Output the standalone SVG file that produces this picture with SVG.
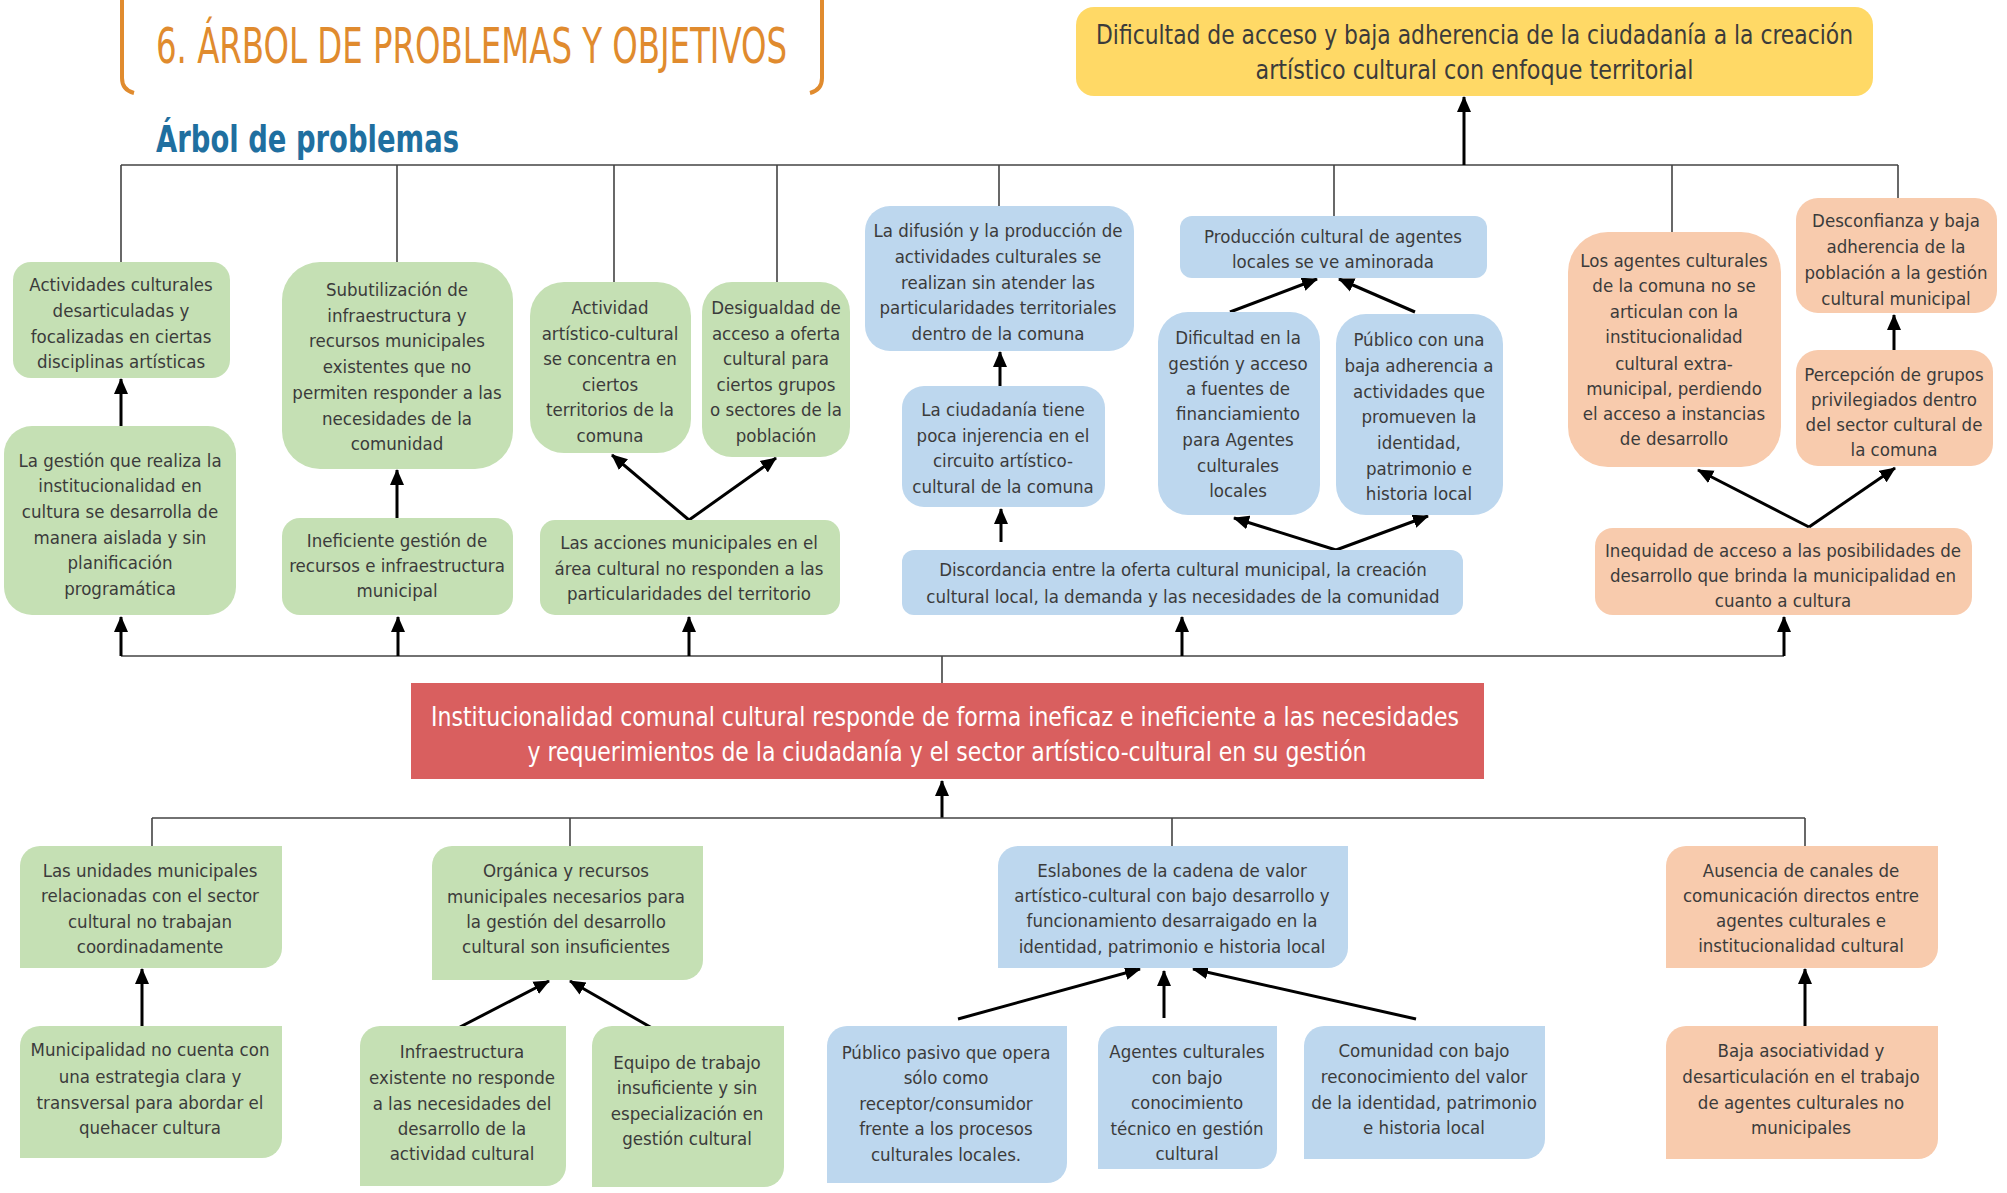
<svg xmlns="http://www.w3.org/2000/svg" width="2007" height="1193" viewBox="0 0 2007 1193">
<defs>
<marker id="ah" markerUnits="userSpaceOnUse" markerWidth="16" markerHeight="16" viewBox="0 0 16 16" refX="15" refY="8" orient="auto"><path d="M0,1 L16,8 L0,15 Z" fill="#000"/></marker>
<style>
text{font-family:"DejaVu Sans Condensed","Liberation Sans Narrow","Liberation Sans",sans-serif}
.t{font-size:18.5px;fill:#3b3b3b;text-anchor:middle}
.big{font-size:27px;text-anchor:middle}
.g{fill:#c5e0b4}.b{fill:#bdd7ee}.o{fill:#f8cbad}
.ln{stroke:#444;stroke-width:1.6;fill:none}
.ar{stroke:#000;stroke-width:3;fill:none;marker-end:url(#ah)}
</style>
</defs>
<rect width="2007" height="1193" fill="#fff"/>
<g id="title">
<path d="M122,0 V78 Q122,90 134,93" fill="none" stroke="#e08b2e" stroke-width="4"/>
<path d="M822,0 V78 Q822,90 810,93" fill="none" stroke="#e08b2e" stroke-width="4"/>
<text x="156" y="63" font-size="50" fill="#e08b2e" textLength="631" lengthAdjust="spacingAndGlyphs">6. ÁRBOL DE PROBLEMAS Y OBJETIVOS</text>
<text x="156" y="152" font-size="38" font-weight="bold" fill="#1f6fa0" textLength="303" lengthAdjust="spacingAndGlyphs">Árbol de problemas</text>
</g>
<g id="connectors">
<path class="ln" d="M121,165 H1898 M121,165 V262 M397,165 V262 M614,165 V282 M777,165 V282 M999,165 V206 M1334,165 V216 M1672,165 V232 M1898,165 V198"/>
<path class="ar" d="M1464,165 V97"/>
<path class="ar" d="M121,426 V379"/>
<path class="ar" d="M397,518 V470"/>
<path class="ar" d="M689,520 L612,455"/>
<path class="ar" d="M689,520 L776,458"/>
<path class="ar" d="M1000,386 V352"/>
<path class="ar" d="M1001,542 V509"/>
<path class="ar" d="M1230,312 L1317,279"/>
<path class="ar" d="M1415,312 L1339,279"/>
<path class="ar" d="M1336,550 L1234,518"/>
<path class="ar" d="M1336,550 L1428,516"/>
<path class="ar" d="M1894,350 V315"/>
<path class="ar" d="M1809,527 L1698,470"/>
<path class="ar" d="M1809,527 L1895,468"/>
<path class="ln" d="M121,656 H1784 M942,656 V683"/>
<path class="ar" d="M121,656 V617"/>
<path class="ar" d="M398,656 V617"/>
<path class="ar" d="M689,656 V617"/>
<path class="ar" d="M1182,656 V617"/>
<path class="ar" d="M1784,656 V617"/>
<path class="ar" d="M942,818 V781"/>
<path class="ln" d="M152,818 H1805 M152,818 V846 M570,818 V846 M1172,818 V846 M1805,818 V846" stroke-width="2"/>
<path class="ar" d="M142,1026 V969"/>
<path class="ar" d="M460,1027 L549,981"/>
<path class="ar" d="M652,1028 L570,981"/>
<path class="ar" d="M958,1019 L1140,969"/>
<path class="ar" d="M1164,1018 V971"/>
<path class="ar" d="M1416,1019 L1193,969"/>
<path class="ar" d="M1805,1026 V969"/>
</g>
<g id="n-goal"><rect x="1076" y="7" width="797" height="89" rx="18" fill="#ffd966"/>
<text class="big" fill="#3b3b3b" x="1474.5" y="44" textLength="757" lengthAdjust="spacingAndGlyphs">Dificultad de acceso y baja adherencia de la ciudadanía a la creación</text>
<text class="big" fill="#3b3b3b" x="1474.5" y="79" textLength="438" lengthAdjust="spacingAndGlyphs">artístico cultural con enfoque territorial</text></g>
<g id="n-core"><rect x="411" y="683" width="1073" height="96" fill="#d95f5f"/>
<text class="big" fill="#fff" x="945" y="726" textLength="1028" lengthAdjust="spacingAndGlyphs">Institucionalidad comunal cultural responde de forma ineficaz e ineficiente a las necesidades</text>
<text class="big" fill="#fff" x="947" y="761" textLength="839" lengthAdjust="spacingAndGlyphs">y requerimientos de la ciudadanía y el sector artístico-cultural en su gestión</text></g>

<g id="n1"><rect class="g" x="13" y="262" width="217" height="116" rx="18"/>
<text class="t" x="121" y="291">Actividades culturales</text><text class="t" x="121" y="317">desarticuladas y</text><text class="t" x="121" y="343">focalizadas en ciertas</text><text class="t" x="121" y="368">disciplinas artísticas</text></g>
<g id="n2"><rect class="g" x="4" y="426" width="232" height="189" rx="28"/>
<text class="t" x="120" y="467">La gestión que realiza la</text><text class="t" x="120" y="492">institucionalidad en</text><text class="t" x="120" y="518">cultura se desarrolla de</text><text class="t" x="120" y="544">manera aislada y sin</text><text class="t" x="120" y="569">planificación</text><text class="t" x="120" y="595">programática</text></g>
<g id="n3"><rect class="g" x="282" y="262" width="231" height="207" rx="38"/>
<text class="t" x="397" y="296">Subutilización de</text><text class="t" x="397" y="322">infraestructura y</text><text class="t" x="397" y="347">recursos municipales</text><text class="t" x="397" y="373">existentes que no</text><text class="t" x="397" y="399">permiten responder a las</text><text class="t" x="397" y="425">necesidades de la</text><text class="t" x="397" y="450">comunidad</text></g>
<g id="n4"><rect class="g" x="282" y="518" width="231" height="97" rx="18"/>
<text class="t" x="397" y="547">Ineficiente gestión de</text><text class="t" x="397" y="572">recursos e infraestructura</text><text class="t" x="397" y="597">municipal</text></g>
<g id="n5"><rect class="g" x="530" y="282" width="161" height="171" rx="34"/>
<text class="t" x="610" y="314">Actividad</text><text class="t" x="610" y="340">artístico-cultural</text><text class="t" x="610" y="365">se concentra en</text><text class="t" x="610" y="391">ciertos</text><text class="t" x="610" y="416">territorios de la</text><text class="t" x="610" y="442">comuna</text></g>
<g id="n6"><rect class="g" x="702" y="282" width="148" height="175" rx="30"/>
<text class="t" x="776" y="314">Desigualdad de</text><text class="t" x="776" y="340">acceso a oferta</text><text class="t" x="776" y="365">cultural para</text><text class="t" x="776" y="391">ciertos grupos</text><text class="t" x="776" y="416">o sectores de la</text><text class="t" x="776" y="442">población</text></g>
<g id="n7"><rect class="g" x="540" y="520" width="300" height="95" rx="15"/>
<text class="t" x="689" y="549">Las acciones municipales en el</text><text class="t" x="689" y="575">área cultural no responden a las</text><text class="t" x="689" y="600">particularidades del territorio</text></g>
<g id="n8"><rect class="b" x="865" y="206" width="269" height="145" rx="25"/>
<text class="t" x="998" y="237">La difusión y la producción de</text><text class="t" x="998" y="263">actividades culturales se</text><text class="t" x="998" y="289">realizan sin atender las</text><text class="t" x="998" y="314">particularidades territoriales</text><text class="t" x="998" y="340">dentro de la comuna</text></g>
<g id="n9"><rect class="b" x="902" y="386" width="203" height="121" rx="22"/>
<text class="t" x="1003" y="416">La ciudadanía tiene</text><text class="t" x="1003" y="442">poca injerencia en el</text><text class="t" x="1003" y="467">circuito artístico-</text><text class="t" x="1003" y="493">cultural de la comuna</text></g>
<g id="n10"><rect class="b" x="902" y="550" width="561" height="65" rx="12"/>
<text class="t" x="1183" y="576">Discordancia entre la oferta cultural municipal, la creación</text><text class="t" x="1183" y="603">cultural local, la demanda y las necesidades de la comunidad</text></g>
<g id="n11"><rect class="b" x="1180" y="216" width="307" height="62" rx="12"/>
<text class="t" x="1333" y="243">Producción cultural de agentes</text><text class="t" x="1333" y="268">locales se ve aminorada</text></g>
<g id="n12"><rect class="b" x="1158" y="312" width="162" height="203" rx="30"/>
<text class="t" x="1238" y="344">Dificultad en la</text><text class="t" x="1238" y="370">gestión y acceso</text><text class="t" x="1238" y="395">a fuentes de</text><text class="t" x="1238" y="420">financiamiento</text><text class="t" x="1238" y="446">para Agentes</text><text class="t" x="1238" y="472">culturales</text><text class="t" x="1238" y="497">locales</text></g>
<g id="n13"><rect class="b" x="1336" y="314" width="167" height="201" rx="30"/>
<text class="t" x="1419" y="346">Público con una</text><text class="t" x="1419" y="372">baja adherencia a</text><text class="t" x="1419" y="398">actividades que</text><text class="t" x="1419" y="423">promueven la</text><text class="t" x="1419" y="449">identidad,</text><text class="t" x="1419" y="475">patrimonio e</text><text class="t" x="1419" y="500">historia local</text></g>
<g id="n14"><rect class="o" x="1568" y="232" width="213" height="235" rx="40"/>
<text class="t" x="1674" y="267">Los agentes culturales</text><text class="t" x="1674" y="292">de la comuna no se</text><text class="t" x="1674" y="318">articulan con la</text><text class="t" x="1674" y="343">institucionalidad</text><text class="t" x="1674" y="370">cultural extra-</text><text class="t" x="1674" y="395">municipal, perdiendo</text><text class="t" x="1674" y="420">el acceso a instancias</text><text class="t" x="1674" y="445">de desarrollo</text></g>
<g id="n15"><rect class="o" x="1796" y="198" width="201" height="115" rx="22"/>
<text class="t" x="1896" y="227">Desconfianza y baja</text><text class="t" x="1896" y="253">adherencia de la</text><text class="t" x="1896" y="279">población a la gestión</text><text class="t" x="1896" y="305">cultural municipal</text></g>
<g id="n16"><rect class="o" x="1796" y="350" width="197" height="116" rx="22"/>
<text class="t" x="1894" y="381">Percepción de grupos</text><text class="t" x="1894" y="406">privilegiados dentro</text><text class="t" x="1894" y="431">del sector cultural de</text><text class="t" x="1894" y="456">la comuna</text></g>
<g id="n17"><rect class="o" x="1595" y="528" width="377" height="87" rx="18"/>
<text class="t" x="1783" y="557">Inequidad de acceso a las posibilidades de</text><text class="t" x="1783" y="582">desarrollo que brinda la municipalidad en</text><text class="t" x="1783" y="607">cuanto a cultura</text></g>

<g id="n18"><path class="g" d="M40,846 H282 V948 A20,20 0 0 1 262,968 H20 V866 A20,20 0 0 1 40,846 Z"/>
<text class="t" x="150" y="877">Las unidades municipales</text><text class="t" x="150" y="902">relacionadas con el sector</text><text class="t" x="150" y="928">cultural no trabajan</text><text class="t" x="150" y="953">coordinadamente</text></g>
<g id="n19"><path class="g" d="M40,1026 H282 V1138 A20,20 0 0 1 262,1158 H20 V1046 A20,20 0 0 1 40,1026 Z"/>
<text class="t" x="150" y="1056">Municipalidad no cuenta con</text><text class="t" x="150" y="1083">una estrategia clara y</text><text class="t" x="150" y="1109">transversal para abordar el</text><text class="t" x="150" y="1134">quehacer cultura</text></g>
<g id="n20"><path class="g" d="M452,846 H703 V960 A20,20 0 0 1 683,980 H432 V866 A20,20 0 0 1 452,846 Z"/>
<text class="t" x="566" y="877">Orgánica y recursos</text><text class="t" x="566" y="903">municipales necesarios para</text><text class="t" x="566" y="928">la gestión del desarrollo</text><text class="t" x="566" y="953">cultural son insuficientes</text></g>
<g id="n21"><path class="g" d="M380,1026 H566 V1166 A20,20 0 0 1 546,1186 H360 V1046 A20,20 0 0 1 380,1026 Z"/>
<text class="t" x="462" y="1058">Infraestructura</text><text class="t" x="462" y="1084">existente no responde</text><text class="t" x="462" y="1110">a las necesidades del</text><text class="t" x="462" y="1135">desarrollo de la</text><text class="t" x="462" y="1160">actividad cultural</text></g>
<g id="n22"><path class="g" d="M612,1026 H784 V1167 A20,20 0 0 1 764,1187 H592 V1046 A20,20 0 0 1 612,1026 Z"/>
<text class="t" x="687" y="1069">Equipo de trabajo</text><text class="t" x="687" y="1094">insuficiente y sin</text><text class="t" x="687" y="1120">especialización en</text><text class="t" x="687" y="1145">gestión cultural</text></g>
<g id="n23"><path class="b" d="M1018,846 H1348 V948 A20,20 0 0 1 1328,968 H998 V866 A20,20 0 0 1 1018,846 Z"/>
<text class="t" x="1172" y="877">Eslabones de la cadena de valor</text><text class="t" x="1172" y="902">artístico-cultural con bajo desarrollo y</text><text class="t" x="1172" y="927">funcionamiento desarraigado en la</text><text class="t" x="1172" y="953">identidad, patrimonio e historia local</text></g>
<g id="n24"><path class="b" d="M847,1026 H1067 V1163 A20,20 0 0 1 1047,1183 H827 V1046 A20,20 0 0 1 847,1026 Z"/>
<text class="t" x="946" y="1059">Público pasivo que opera</text><text class="t" x="946" y="1084">sólo como</text><text class="t" x="946" y="1110">receptor/consumidor</text><text class="t" x="946" y="1135">frente a los procesos</text><text class="t" x="946" y="1161">culturales locales.</text></g>
<g id="n25"><path class="b" d="M1118,1026 H1277 V1149 A20,20 0 0 1 1257,1169 H1098 V1046 A20,20 0 0 1 1118,1026 Z"/>
<text class="t" x="1187" y="1058">Agentes culturales</text><text class="t" x="1187" y="1084">con bajo</text><text class="t" x="1187" y="1109">conocimiento</text><text class="t" x="1187" y="1135">técnico en gestión</text><text class="t" x="1187" y="1160">cultural</text></g>
<g id="n26"><path class="b" d="M1324,1026 H1545 V1139 A20,20 0 0 1 1525,1159 H1304 V1046 A20,20 0 0 1 1324,1026 Z"/>
<text class="t" x="1424" y="1057">Comunidad con bajo</text><text class="t" x="1424" y="1083">reconocimiento del valor</text><text class="t" x="1424" y="1109">de la identidad, patrimonio</text><text class="t" x="1424" y="1134">e historia local</text></g>
<g id="n27"><path class="o" d="M1686,846 H1938 V948 A20,20 0 0 1 1918,968 H1666 V866 A20,20 0 0 1 1686,846 Z"/>
<text class="t" x="1801" y="877">Ausencia de canales de</text><text class="t" x="1801" y="902">comunicación directos entre</text><text class="t" x="1801" y="927">agentes culturales e</text><text class="t" x="1801" y="952">institucionalidad cultural</text></g>
<g id="n28"><path class="o" d="M1686,1026 H1938 V1139 A20,20 0 0 1 1918,1159 H1666 V1046 A20,20 0 0 1 1686,1026 Z"/>
<text class="t" x="1801" y="1057">Baja asociatividad y</text><text class="t" x="1801" y="1083">desarticulación en el trabajo</text><text class="t" x="1801" y="1109">de agentes culturales no</text><text class="t" x="1801" y="1134">municipales</text></g>
</svg>
